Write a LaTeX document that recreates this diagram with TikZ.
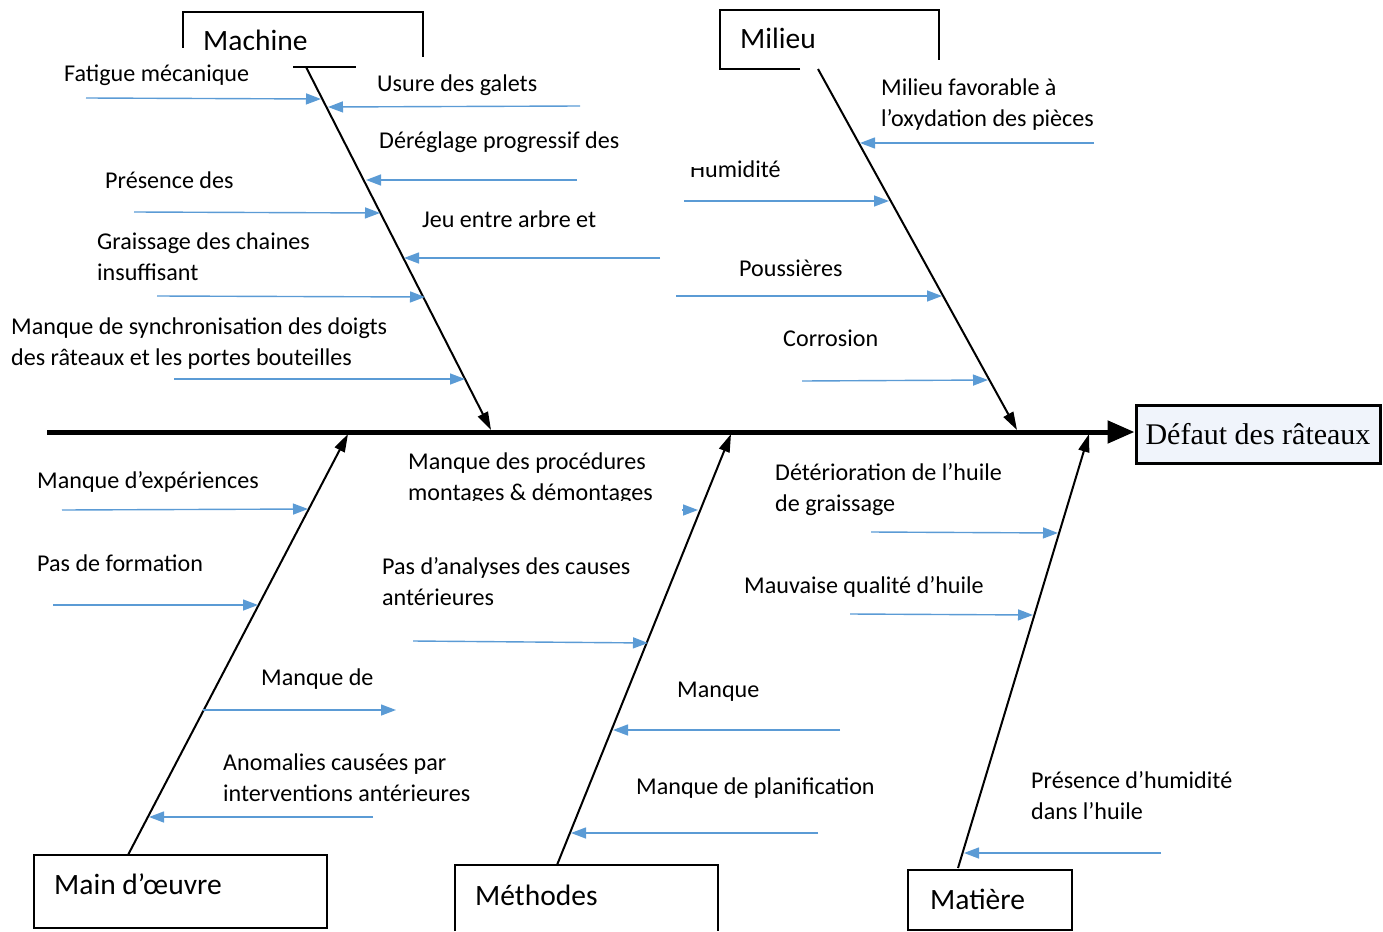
\documentclass[tikz,border=0pt]{standalone}
\usepackage{fontspec}
\setmainfont{Carlito}
\newfontfamily\serifface{Liberation Serif}
\usetikzlibrary{arrows.meta}
\definecolor{causeblue}{HTML}{5B9BD5}
\definecolor{effectfill}{HTML}{F0F4FB}

\begin{document}
\begin{tikzpicture}[x=1pt,y=-1pt,
  cause/.style={draw=causeblue,line width=1.4pt,-{Triangle[length=15pt,width=11pt]}},
  bone/.style={draw=black,line width=2pt,-{Triangle[length=18pt,width=11pt]}},
  txt/.style={anchor=base west,inner sep=0pt,align=left,font=\fontsize{24.1}{31.5}\selectfont},
  cattxt/.style={anchor=base west,inner sep=0pt,font=\fontsize{29.5}{32}\selectfont},
  boxline/.style={line width=1.3pt}]

\useasboundingbox (0,0) rectangle (1383,931);

% ---------- effect and spine ----------
\node[draw,line width=3pt,fill=effectfill,minimum width=244,minimum height=58,inner sep=0pt]
  (effect) at (1258,434) {\serifface\fontsize{30}{32}\selectfont Défaut des râteaux};
\coordinate (tail) at (47,432);
\draw[line width=5pt,-{Triangle[length=27pt,width=22pt]}] (tail) -- (effect.west |- tail);

% ---------- category boxes ----------
% Machine (partly hidden frame)
\draw[boxline] (183,48) -- (183,12) -- (423,12) -- (423,57);
\draw[boxline] (293,67) -- (356,67);
\begin{scope}
  \clip (183,12) rectangle (423,50);
  \node[cattxt] (machine) at (203,51) {Machine};
\end{scope}
% Milieu
\draw[boxline] (800,69) -- (720,69) -- (720,10) -- (939,10) -- (939,60);
\node[cattxt] (milieu) at (740,49) {Milieu};
% Main d'oeuvre
\draw[boxline] (34,855) rectangle (327,928);
\node[cattxt] (main) at (54,894) {Main d’œuvre};
% Methodes
\draw[boxline] (455,931) -- (455,865) -- (718,865) -- (718,931);
\node[cattxt] (methodes) at (475,905) {Méthodes};
% Matiere
\draw[boxline] (908,870) rectangle (1072,930);
\node[cattxt] (matiere) at (930,909) {Matière};

% ---------- main bones ----------
\coordinate (bMa0) at (306,67);   \coordinate (bMa1) at (491,430);
\coordinate (bMi0) at (818,69);   \coordinate (bMi1) at (1017,430);
\coordinate (bMo0) at (128,855);  \coordinate (bMo1) at (348,434);
\coordinate (bMe0) at (557,865);  \coordinate (bMe1) at (731,434);
\coordinate (bMt0) at (958,868);  \coordinate (bMt1) at (1089,434);
\draw[bone] (bMa0) -- (bMa1);
\draw[bone] (bMi0) -- (bMi1);
\draw[bone] (bMo0) -- (bMo1);
\draw[bone] (bMe0) -- (bMe1);
\draw[bone] (bMt0) -- (bMt1);

% ---------- Machine causes ----------
\node[txt] (c1) at (64,82) {Fatigue mécanique};
\coordinate (a1s) at (86,98);   \coordinate (a1e) at (321,99);
\draw[cause] (a1s) -- (a1e);
\node[txt] (c2) at (377,92) {Usure des galets};
\coordinate (a2s) at (580,106); \coordinate (a2e) at (328,107);
\draw[cause] (a2s) -- (a2e);
\node[txt] (c3) at (379,149) {Déréglage progressif des};
\coordinate (a3s) at (577,180); \coordinate (a3e) at (366,180);
\draw[cause] (a3s) -- (a3e);
\node[txt] (c4) at (105,188) {Présence des};
\coordinate (a4s) at (134,212); \coordinate (a4e) at (380,213);
\draw[cause] (a4s) -- (a4e);
\node[txt] (c5) at (422,227) {Jeu entre arbre et};
\coordinate (a5s) at (660,258); \coordinate (a5e) at (404,258);
\draw[cause] (a5s) -- (a5e);
\node[txt] (c6) at (97,280.5) {Graissage des chaines\\insuffisant};
\coordinate (a6s) at (157,296); \coordinate (a6e) at (425,297);
\draw[cause] (a6s) -- (a6e);
\node[txt] (c7) at (11,365.5) {Manque de synchronisation des doigts\\des râteaux et les portes bouteilles};
\coordinate (a7s) at (174,379); \coordinate (a7e) at (465,379);
\draw[cause] (a7s) -- (a7e);

% ---------- Milieu causes ----------
\node[txt] (c8) at (881,126.5) {Milieu favorable à\\l’oxydation des pièces};
\coordinate (a8s) at (1094,143); \coordinate (a8e) at (860,143);
\draw[cause] (a8s) -- (a8e);
\begin{scope}
  \clip (680,167) rectangle (712,190) (712,150) rectangle (800,190);
  \node[txt] (c9) at (690,177) {Humidité};
\end{scope}
\coordinate (a9s) at (684,201);  \coordinate (a9e) at (889,201);
\draw[cause] (a9s) -- (a9e);
\node[txt] (c10) at (739,276) {Poussières};
\coordinate (a10s) at (676,296); \coordinate (a10e) at (942,296);
\draw[cause] (a10s) -- (a10e);
\node[txt] (c11) at (783,346) {Corrosion};
\coordinate (a11s) at (802,381); \coordinate (a11e) at (988,380);
\draw[cause] (a11s) -- (a11e);

% ---------- Main d'oeuvre causes ----------
\node[txt] (c12) at (37,488) {Manque d’expériences};
\coordinate (a12s) at (62,510);  \coordinate (a12e) at (308,509);
\draw[cause] (a12s) -- (a12e);
\node[txt] (c13) at (37,571) {Pas de formation};
\coordinate (a13s) at (53,605);  \coordinate (a13e) at (258,605);
\draw[cause] (a13s) -- (a13e);
\node[txt] (c14) at (261,685) {Manque de};
\coordinate (a14s) at (203,710); \coordinate (a14e) at (396,710);
\draw[cause] (a14s) -- (a14e);
\node[txt] (c15) at (223,801.5) {Anomalies causées par\\interventions antérieures};
\coordinate (a15s) at (373,817); \coordinate (a15e) at (149,817);
\draw[cause] (a15s) -- (a15e);

% ---------- Methodes causes ----------
\begin{scope}
  \clip (400,440) rectangle (670,500);
  \node[txt] (c16) at (408,500.5) {Manque des procédures\\montages \& démontages};
\end{scope}
\coordinate (a16s) at (682,510); \coordinate (a16e) at (698,510);
\draw[cause] (a16s) -- (a16e);
\node[txt] (c17) at (382,605.5) {Pas d’analyses des causes\\antérieures};
\coordinate (a17s) at (413,641); \coordinate (a17e) at (648,643);
\draw[cause] (a17s) -- (a17e);
\node[txt] (c18) at (677,697) {Manque};
\coordinate (a18s) at (840,730); \coordinate (a18e) at (613,730);
\draw[cause] (a18s) -- (a18e);
\node[txt] (c19) at (636,794) {Manque de planification};
\coordinate (a19s) at (818,833); \coordinate (a19e) at (571,833);
\draw[cause] (a19s) -- (a19e);

% ---------- Matiere causes ----------
\node[txt] (c20) at (775,511.5) {Détérioration de l’huile\\de graissage};
\coordinate (a20s) at (871,532); \coordinate (a20e) at (1058,533);
\draw[cause] (a20s) -- (a20e);
\node[txt] (c21) at (744,593) {Mauvaise qualité d’huile};
\coordinate (a21s) at (850,614); \coordinate (a21e) at (1033,615);
\draw[cause] (a21s) -- (a21e);
\node[txt] (c22) at (1031,819.5) {Présence d’humidité\\dans l’huile};
\coordinate (a22s) at (1161,853); \coordinate (a22e) at (964,853);
\draw[cause] (a22s) -- (a22e);

\end{tikzpicture}
\end{document}
